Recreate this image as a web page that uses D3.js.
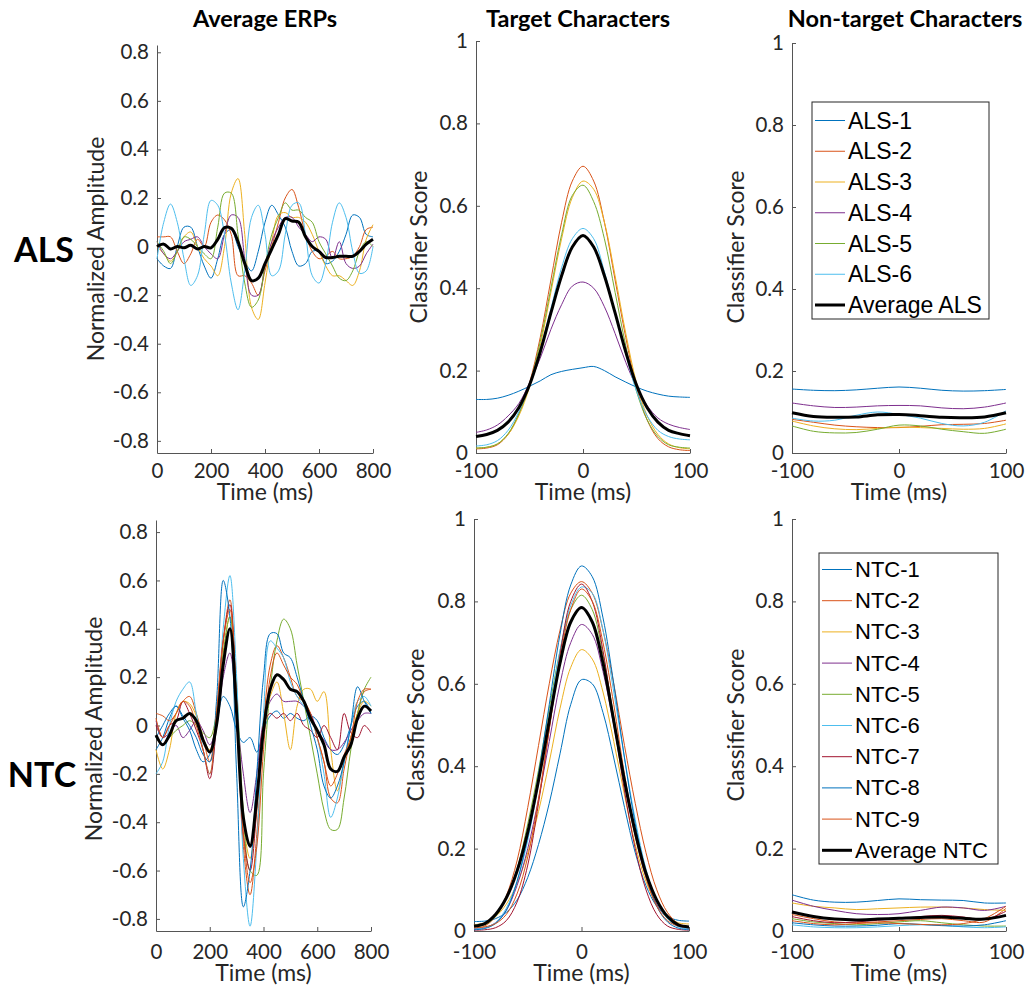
<!doctype html>
<html>
<head>
<meta charset="utf-8">
<title>ALS vs NTC - ERPs and classifier scores</title>
<script src="https://cdn.jsdelivr.net/npm/d3@7"></script>
<style>
    body { margin: 0; background: #fff; }
    svg text { font-family: Lato, "Open Sans", sans-serif; fill: #262626; }
    .axis .tick text { font-size: 20.5px; }
    .axis path, .axis line { stroke: #555; }
    .title { font-weight: bold; font-size: 23.5px; fill: #000; }
    .rowlabel { font-weight: bold; font-size: 34px; fill: #000; }
    .axlabel { font-size: 23px; }
    .legend text { font-family: "Liberation Sans", Arial, sans-serif; fill: #000; }
</style>
</head>
<body>
<svg id="fig" width="1032" height="987"></svg>
<script>
// MATLAB default line colours
var lineColors = ["#0072BD", "#D95319", "#EDB120", "#7E2F8E", "#77AC30", "#4DBEEE", "#A2142F", "#0072BD", "#D95319"];

var alsNames = ["ALS-1", "ALS-2", "ALS-3", "ALS-4", "ALS-5", "ALS-6", "Average ALS"];
var ntcNames = ["NTC-1", "NTC-2", "NTC-3", "NTC-4", "NTC-5", "NTC-6", "NTC-7", "NTC-8", "NTC-9", "Average NTC"];

// time axes (ms)
var erpTime = [0, 25, 50, 75, 100, 125, 150, 175, 200, 225, 250, 275, 300, 325, 350, 375, 400,
    425, 450, 475, 500, 525, 550, 575, 600, 625, 650, 675, 700, 725, 750, 775, 800];
var targetTime = [-100, -90, -80, -70, -60, -50, -40, -30, -20, -10, 0, 10, 20, 30, 40, 50, 60, 70, 80, 90, 100];
var nonTargetTime = [-100, -80, -60, -40, -20, 0, 20, 40, 60, 80, 100];

// ticks
var erpXTicks = [0, 200, 400, 600, 800];
var erpYTicks = [-0.8, -0.6, -0.4, -0.2, 0, 0.2, 0.4, 0.6, 0.8];
var scoreXTicks = [-100, 0, 100];
var scoreYTicks = [0, 0.2, 0.4, 0.6, 0.8, 1];

// ---- ALS average ERPs ----
var alsErp = [
    [-0.05, -0.08, -0.09, 0.0, 0.08, 0.08, 0.0, -0.08, -0.13, -0.05, 0.05, 0.07, 0.0, -0.06, -0.1, -0.02, 0.1, 0.17, 0.13, 0.08, -0.02, -0.08, -0.07, -0.02, -0.02, -0.07, -0.06, -0.02, 0.05, 0.13, 0.12, 0.05, 0.04],
    [0.04, 0.04, 0.04, -0.02, -0.07, -0.03, 0.03, 0.0, 0.1, 0.13, 0.11, 0.05, -0.12, -0.12, -0.15, -0.2, -0.1, 0.0, 0.1, 0.2, 0.235, 0.16, 0.05, -0.02, -0.05, -0.04, -0.02, -0.05, -0.05, -0.04, 0.0, 0.07, 0.08],
    [0.0, -0.03, -0.06, -0.02, 0.04, 0.06, 0.0, -0.05, -0.08, -0.12, 0.0, 0.22, 0.28, 0.05, -0.25, -0.3, -0.15, 0.02, 0.13, 0.14, 0.12, 0.12, 0.1, 0.05, -0.02, -0.08, -0.12, -0.12, -0.14, -0.16, -0.1, 0.03, 0.09],
    [0.02, -0.03, -0.05, -0.02, 0.02, 0.03, 0.04, 0.0, -0.03, -0.05, 0.05, 0.13, 0.12, -0.05, -0.2, -0.2, -0.08, 0.02, 0.08, 0.12, 0.12, 0.08, 0.05, 0.02, 0.04, 0.03, -0.05, 0.02, -0.07, -0.09, -0.08, -0.03, 0.01],
    [0.02, -0.02, -0.07, -0.02, 0.04, 0.03, 0.0, -0.03, -0.05, 0.08, 0.22, 0.22, 0.05, -0.15, -0.25, -0.22, -0.08, 0.05, 0.12, 0.18, 0.15, 0.15, 0.12, 0.1, 0.02, -0.03, -0.08, -0.13, -0.14, -0.1, -0.02, 0.02, 0.0],
    [-0.05, 0.1, 0.175, 0.1, -0.05, -0.16, -0.12, 0.05, 0.19, 0.17, 0.05, -0.15, -0.26, -0.1, 0.12, 0.17, 0.05, -0.12, -0.1, 0.05, 0.17, 0.18, 0.05, -0.12, -0.15, -0.07, 0.1, 0.18, 0.12, -0.02, -0.11, -0.1, 0.0]
];
var alsErpAvg = [0.0, 0.01, -0.01, 0.0, -0.005, 0.005, -0.01, 0.0, -0.005, 0.03, 0.078, 0.075, 0.02, -0.07, -0.14, -0.13, -0.07, -0.01, 0.05, 0.115, 0.105, 0.1, 0.04, 0.0, -0.02, -0.045, -0.045, -0.04, -0.04, -0.04, -0.02, 0.01, 0.03];

// ---- NTC average ERPs ----
var ntcErp = [
    [-0.1, -0.05, 0.03, 0.08, 0.03, -0.02, -0.1, -0.15, -0.12, 0.0, 0.12, 0.08, -0.02, -0.07, -0.05, -0.11, -0.02, 0.04, 0.06, 0.03, 0.05, 0.03, 0.02, 0.04, 0.02, -0.05, -0.1, -0.12, -0.08, 0.0, 0.08, 0.1, 0.05],
    [0.05, 0.04, 0.02, 0.05, 0.1, 0.12, 0.05, -0.05, -0.15, 0.05, 0.35, 0.52, 0.1, -0.5, -0.7, -0.45, 0.0, 0.25, 0.33, 0.28, 0.2, 0.12, 0.1, 0.05, -0.05, -0.15, -0.3, -0.32, -0.18, -0.05, 0.05, 0.14, 0.15],
    [-0.1, -0.18, -0.1, 0.05, 0.1, 0.09, 0.04, -0.05, -0.1, 0.05, 0.3, 0.45, 0.05, -0.4, -0.55, -0.35, 0.0, 0.12, 0.18, 0.05, -0.1, 0.08, 0.15, 0.15, 0.1, 0.14, -0.1, -0.27, -0.15, -0.05, 0.05, 0.1, 0.08],
    [0.02, -0.05, -0.03, 0.0, -0.05, -0.02, 0.02, -0.02, -0.08, 0.0, 0.2, 0.3, 0.05, -0.2, -0.36, -0.2, 0.02, 0.1, 0.13, 0.1, 0.1, 0.1, 0.08, 0.05, -0.02, -0.06, -0.1, -0.1, -0.07, -0.02, 0.02, 0.05, 0.05],
    [-0.05, -0.08, -0.05, -0.02, 0.0, 0.02, 0.0, -0.03, -0.05, 0.05, 0.3, 0.45, 0.15, -0.35, -0.6, -0.62, -0.2, 0.15, 0.35, 0.44, 0.4, 0.25, 0.1, -0.05, -0.2, -0.35, -0.43, -0.43, -0.3, -0.1, 0.05, 0.15, 0.2],
    [-0.2, -0.15, 0.0, 0.1, 0.15, 0.18, 0.05, -0.1, -0.2, 0.0, 0.4, 0.62, 0.2, -0.55, -0.83, -0.5, 0.05, 0.35, 0.32, 0.28, 0.18, 0.12, 0.08, 0.03, -0.05, -0.2, -0.38, -0.3, -0.15, 0.0, 0.1, 0.12, 0.08],
    [0.0, -0.05, 0.0, 0.02, 0.1, 0.05, -0.02, -0.1, -0.22, 0.0, 0.35, 0.5, 0.1, -0.45, -0.6, -0.35, 0.0, 0.05, 0.03, 0.05, 0.02, 0.05, 0.0, -0.02, -0.05, 0.0, -0.05, -0.1, 0.05, -0.03, -0.05, 0.0, -0.03],
    [-0.05, 0.0, 0.05, 0.08, 0.04, 0.0, -0.05, -0.12, -0.15, 0.1, 0.6, 0.45, -0.2, -0.75, -0.6, -0.2, 0.2, 0.38, 0.38, 0.3, 0.28, 0.2, 0.1, 0.0, -0.1, -0.25, -0.3, -0.25, -0.15, 0.0, 0.16, 0.1, 0.05],
    [0.03, -0.05, 0.0, 0.05, 0.1, 0.08, 0.0, -0.1, -0.2, 0.05, 0.35, 0.48, 0.1, -0.45, -0.65, -0.5, -0.1, 0.2, 0.3, 0.25, 0.2, 0.17, 0.1, 0.05, -0.05, -0.15, -0.25, -0.2, -0.12, -0.05, 0.1, 0.15, 0.15]
];
var ntcErpAvg = [-0.04, -0.08, -0.04, 0.02, 0.03, 0.05, 0.02, -0.06, -0.11, 0.0, 0.25, 0.4, 0.05, -0.38, -0.5, -0.3, -0.02, 0.15, 0.21, 0.19, 0.15, 0.14, 0.1, 0.03, -0.02, -0.08, -0.18, -0.19, -0.13, -0.08, 0.03, 0.08, 0.06];

// ---- ALS target characters ----
var alsTarget = [
    [0.13, 0.13, 0.133, 0.14, 0.15, 0.162, 0.175, 0.19, 0.198, 0.203, 0.207, 0.21, 0.2, 0.185, 0.172, 0.16, 0.15, 0.143, 0.138, 0.136, 0.135],
    [0.01, 0.012, 0.02, 0.045, 0.095, 0.17, 0.28, 0.42, 0.56, 0.66, 0.696, 0.66, 0.56, 0.42, 0.28, 0.16, 0.08, 0.035, 0.015, 0.008, 0.006],
    [0.012, 0.014, 0.022, 0.045, 0.09, 0.16, 0.26, 0.39, 0.52, 0.62, 0.66, 0.64, 0.56, 0.43, 0.29, 0.17, 0.09, 0.045, 0.022, 0.013, 0.01],
    [0.05, 0.056, 0.068, 0.09, 0.12, 0.17, 0.23, 0.3, 0.36, 0.405, 0.415, 0.4, 0.355, 0.29, 0.22, 0.16, 0.115, 0.085, 0.07, 0.062, 0.057],
    [0.012, 0.014, 0.022, 0.047, 0.095, 0.165, 0.27, 0.4, 0.53, 0.625, 0.65, 0.61, 0.52, 0.39, 0.26, 0.15, 0.08, 0.04, 0.02, 0.014, 0.012],
    [0.017, 0.02, 0.03, 0.055, 0.1, 0.165, 0.25, 0.35, 0.45, 0.52, 0.545, 0.52, 0.44, 0.34, 0.24, 0.15, 0.09, 0.055, 0.04, 0.034, 0.032]
];
var alsTargetAvg = [0.04, 0.045, 0.055, 0.075, 0.11, 0.165, 0.245, 0.34, 0.43, 0.5, 0.528, 0.5, 0.43, 0.34, 0.245, 0.165, 0.11, 0.075, 0.055, 0.047, 0.042];

// ---- NTC target characters ----
var ntcTarget = [
    [0.023, 0.024, 0.03, 0.045, 0.075, 0.13, 0.21, 0.31, 0.43, 0.55, 0.61, 0.6, 0.53, 0.42, 0.3, 0.19, 0.11, 0.06, 0.035, 0.026, 0.024],
    [0.005, 0.012, 0.035, 0.085, 0.17, 0.3, 0.45, 0.6, 0.73, 0.82, 0.848, 0.82, 0.73, 0.6, 0.45, 0.31, 0.19, 0.1, 0.045, 0.018, 0.01],
    [0.015, 0.02, 0.035, 0.065, 0.115, 0.19, 0.29, 0.41, 0.54, 0.64, 0.683, 0.66, 0.58, 0.46, 0.33, 0.21, 0.12, 0.065, 0.035, 0.02, 0.017],
    [0.005, 0.008, 0.02, 0.05, 0.11, 0.2, 0.32, 0.46, 0.6, 0.7, 0.744, 0.72, 0.63, 0.5, 0.36, 0.23, 0.13, 0.065, 0.03, 0.012, 0.006],
    [0.01, 0.015, 0.035, 0.08, 0.15, 0.26, 0.39, 0.54, 0.68, 0.78, 0.815, 0.78, 0.67, 0.52, 0.37, 0.24, 0.14, 0.07, 0.03, 0.013, 0.008],
    [0.005, 0.008, 0.02, 0.055, 0.12, 0.22, 0.36, 0.52, 0.68, 0.79, 0.835, 0.82, 0.73, 0.58, 0.42, 0.27, 0.15, 0.07, 0.03, 0.01, 0.005],
    [0.002, 0.003, 0.008, 0.025, 0.07, 0.16, 0.31, 0.49, 0.67, 0.8, 0.842, 0.8, 0.68, 0.51, 0.34, 0.2, 0.1, 0.04, 0.012, 0.004, 0.002],
    [0.003, 0.006, 0.018, 0.05, 0.12, 0.23, 0.38, 0.55, 0.72, 0.84, 0.886, 0.86, 0.76, 0.6, 0.42, 0.26, 0.14, 0.06, 0.022, 0.007, 0.003],
    [0.008, 0.01, 0.018, 0.04, 0.09, 0.18, 0.32, 0.49, 0.66, 0.78, 0.83, 0.8, 0.7, 0.55, 0.38, 0.24, 0.13, 0.06, 0.025, 0.012, 0.01]
];
var ntcTargetAvg = [0.012, 0.018, 0.04, 0.08, 0.145, 0.24, 0.365, 0.51, 0.65, 0.75, 0.785, 0.75, 0.65, 0.51, 0.365, 0.24, 0.14, 0.075, 0.035, 0.015, 0.01];

// ---- ALS non-target characters ----
var alsNonTarget = [
    [0.156, 0.153, 0.152, 0.154, 0.158, 0.161, 0.158, 0.153, 0.151, 0.152, 0.155],
    [0.082, 0.075, 0.068, 0.064, 0.062, 0.062, 0.065, 0.069, 0.07, 0.072, 0.08],
    [0.078, 0.066, 0.059, 0.057, 0.06, 0.063, 0.062, 0.06, 0.058, 0.06, 0.071],
    [0.122, 0.115, 0.111, 0.112, 0.115, 0.116, 0.115, 0.11, 0.108, 0.112, 0.122],
    [0.066, 0.053, 0.049, 0.05, 0.058, 0.068, 0.066, 0.058, 0.052, 0.048, 0.058],
    [0.085, 0.078, 0.08, 0.092, 0.1, 0.094, 0.085, 0.072, 0.066, 0.075, 0.103]
];
var alsNonTargetAvg = [0.098, 0.089, 0.087, 0.088, 0.093, 0.094, 0.091, 0.087, 0.086, 0.088, 0.098];

// ---- NTC non-target characters ----
var ntcNonTarget = [
    [0.088, 0.075, 0.07, 0.07, 0.074, 0.078, 0.076, 0.075, 0.074, 0.068, 0.068],
    [0.04, 0.03, 0.022, 0.02, 0.022, 0.025, 0.028, 0.03, 0.025, 0.022, 0.055],
    [0.068, 0.06, 0.056, 0.052, 0.054, 0.056, 0.058, 0.058, 0.056, 0.052, 0.05],
    [0.075, 0.06, 0.05, 0.042, 0.04, 0.042, 0.05, 0.058, 0.056, 0.05, 0.06],
    [0.03, 0.022, 0.018, 0.015, 0.018, 0.022, 0.025, 0.02, 0.015, 0.012, 0.012],
    [0.015, 0.01, 0.008, 0.008, 0.01, 0.013, 0.015, 0.014, 0.01, 0.008, 0.01],
    [0.035, 0.025, 0.02, 0.022, 0.026, 0.03, 0.035, 0.038, 0.034, 0.028, 0.048],
    [0.02, 0.015, 0.012, 0.012, 0.014, 0.018, 0.016, 0.013, 0.012, 0.015, 0.025],
    [0.025, 0.018, 0.015, 0.018, 0.02, 0.018, 0.016, 0.015, 0.018, 0.03, 0.06]
];
var ntcNonTargetAvg = [0.046, 0.035, 0.029, 0.027, 0.029, 0.031, 0.033, 0.034, 0.031, 0.029, 0.038];

var svg = d3.select("#fig");

// plain hyphen minus, like the original figure
function fmtTick(d) { return d === 0 ? "0" : (Number.isInteger(d) ? String(d) : d.toFixed(1)); }

function drawPanel(p) {
    var x = d3.scaleLinear().domain(p.xDomain).range([p.left, p.right]);
    var y = d3.scaleLinear().domain(p.yDomain).range([p.bottom, p.top]);
    var g = svg.append("g");

    g.append("g").attr("class", "axis")
        .attr("transform", "translate(0," + p.bottom + ")")
        .call(d3.axisBottom(x).tickValues(p.xTicks).tickFormat(fmtTick)
            .tickSizeInner(-4).tickSizeOuter(0).tickPadding(p.xPad));
    g.append("g").attr("class", "axis")
        .attr("transform", "translate(" + p.left + ",0)")
        .call(d3.axisLeft(y).tickValues(p.yTicks).tickFormat(fmtTick)
            .tickSizeInner(-4).tickSizeOuter(0).tickPadding(8));
    g.selectAll(".axis .domain").attr("stroke", "#555");

    var line = d3.line()
        .x(function (d, i) { return x(p.time[i]); })
        .y(function (d) { return y(d); })
        .curve(d3.curveCatmullRom);

    p.series.forEach(function (s, i) {
        g.append("path").attr("d", line(s))
            .attr("fill", "none").attr("stroke", lineColors[i]).attr("stroke-width", 1);
    });
    g.append("path").attr("d", line(p.avg))
        .attr("fill", "none").attr("stroke", "#000").attr("stroke-width", 3);

    g.append("text").attr("class", "axlabel")
        .attr("x", (p.left + p.right) / 2).attr("y", p.bottom + p.xLabelOff)
        .attr("text-anchor", "middle").text("Time (ms)");
    g.append("text").attr("class", "axlabel")
        .attr("transform", "translate(" + p.yLabelX + "," + p.yLabelY + ") rotate(-90)")
        .attr("text-anchor", "middle").attr("dominant-baseline", "central")
        .text(p.yLabel);

    if (p.legend) {
        var L = p.legend;
        var lg = g.append("g").attr("class", "legend");
        lg.append("rect").attr("x", L.x).attr("y", L.y).attr("width", L.w).attr("height", L.h)
            .attr("fill", "#fff").attr("stroke", "#262626").attr("stroke-width", 1);
        L.names.forEach(function (name, i) {
            var cy = L.first + i * L.step;
            var isAvg = i === L.names.length - 1;
            lg.append("line").attr("x1", L.x + 3).attr("x2", L.x + 33).attr("y1", cy).attr("y2", cy)
                .attr("stroke", isAvg ? "#000" : lineColors[i]).attr("stroke-width", isAvg ? 3 : 1);
            lg.append("text").attr("x", L.x + 36).attr("y", cy)
                .attr("dominant-baseline", "central").style("font-size", L.size + "px").text(name);
        });
    }
}

// column titles and row labels
[["Average ERPs", 265], ["Target Characters", 578], ["Non-target Characters", 905]].forEach(function (t) {
    svg.append("text").attr("class", "title").attr("x", t[1]).attr("y", 27)
        .attr("text-anchor", "middle").text(t[0]);
});
svg.append("text").attr("class", "rowlabel").attr("x", 44).attr("y", 248)
    .attr("text-anchor", "middle").attr("dominant-baseline", "central").text("ALS");
svg.append("text").attr("class", "rowlabel").attr("x", 42).attr("y", 773)
    .attr("text-anchor", "middle").attr("dominant-baseline", "central").text("NTC");

// top row: ALS
drawPanel({ left: 157, right: 373, top: 45, bottom: 453, xDomain: [0, 800], yDomain: [-0.85, 0.83],
    xTicks: erpXTicks, yTicks: erpYTicks, xPad: 10, xLabelOff: 47, time: erpTime,
    series: alsErp, avg: alsErpAvg, yLabel: "Normalized Amplitude", yLabelX: 95, yLabelY: 249 });
drawPanel({ left: 476, right: 690, top: 41, bottom: 453, xDomain: [-100, 100], yDomain: [0, 1],
    xTicks: scoreXTicks, yTicks: scoreYTicks, xPad: 10, xLabelOff: 47, time: targetTime,
    series: alsTarget, avg: alsTargetAvg, yLabel: "Classifier Score", yLabelX: 418, yLabelY: 247 });
drawPanel({ left: 792, right: 1006, top: 43, bottom: 453, xDomain: [-100, 100], yDomain: [0, 1],
    xTicks: scoreXTicks, yTicks: scoreYTicks, xPad: 10, xLabelOff: 47, time: nonTargetTime,
    series: alsNonTarget, avg: alsNonTargetAvg, yLabel: "Classifier Score", yLabelX: 735, yLabelY: 247,
    legend: { x: 812, y: 102, w: 177, h: 217, first: 120.5, step: 30.75, size: 23, names: alsNames } });

// bottom row: NTC
drawPanel({ left: 156, right: 371, top: 520, bottom: 931, xDomain: [0, 800], yDomain: [-0.85, 0.85],
    xTicks: erpXTicks, yTicks: erpYTicks, xPad: 13, xLabelOff: 50, time: erpTime,
    series: ntcErp, avg: ntcErpAvg, yLabel: "Normalized Amplitude", yLabelX: 93, yLabelY: 729 });
drawPanel({ left: 474, right: 689, top: 519, bottom: 931, xDomain: [-100, 100], yDomain: [0, 1],
    xTicks: scoreXTicks, yTicks: scoreYTicks, xPad: 13, xLabelOff: 50, time: targetTime,
    series: ntcTarget, avg: ntcTargetAvg, yLabel: "Classifier Score", yLabelX: 415, yLabelY: 725 });
drawPanel({ left: 792, right: 1006, top: 519, bottom: 931, xDomain: [-100, 100], yDomain: [0, 1],
    xTicks: scoreXTicks, yTicks: scoreYTicks, xPad: 13, xLabelOff: 50, time: nonTargetTime,
    series: ntcNonTarget, avg: ntcNonTargetAvg, yLabel: "Classifier Score", yLabelX: 735, yLabelY: 725,
    legend: { x: 819, y: 553, w: 179, h: 311, first: 569.5, step: 31.2, size: 22, names: ntcNames } });
</script>
</body>
</html>
